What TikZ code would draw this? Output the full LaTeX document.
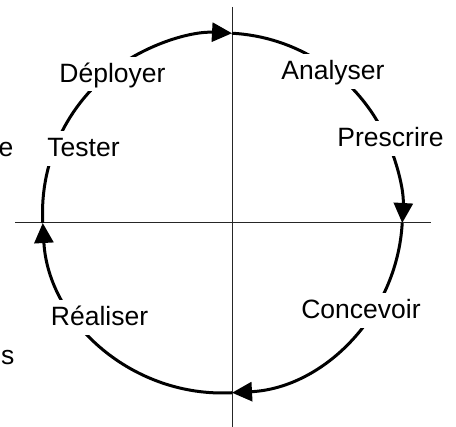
\documentclass[tikz,border=0pt]{standalone}
\usepackage{fontspec}
\setmainfont{Liberation Sans}
\usetikzlibrary{arrows.meta,calc}
\begin{document}
\begin{tikzpicture}[x=1pt,y=1pt,
  axisline/.style={line width=1pt, black!85},
  cycarc/.style={line width=3pt, -{Triangle[length=20pt,width=19pt]}},
  lbl/.style={fill=white, inner sep=2pt, text height=24pt, text depth=6.6pt, anchor=base, font=\fontsize{26.5}{30}\selectfont},
  cut/.style={inner sep=0pt, anchor=base east, font=\fontsize{26.5}{30}\selectfont}]
\useasboundingbox (0,0) rectangle (456,427);
% axes
\coordinate (vtop) at (232,420);
\coordinate (vbot) at (232,0);
\coordinate (hleft) at (15,204);
\coordinate (hright) at (431,204);
\draw[axisline] (vtop) -- (vbot);
\draw[axisline] (hleft) -- (hright);
% cycle points (circle centre (222.5,214), r = 180)
\coordinate (C) at (222.5,214);
\coordinate (L) at ($(C)+(183.19:180)$);
\coordinate (T) at ($(C)+(86.97:180)$);
\coordinate (R) at ($(C)+(-3.19:180)$);
\coordinate (B) at ($(C)+(-86.97:180)$);
\draw[cycarc] (L) arc[start angle=183.19, end angle=86.97, radius=180];
\draw[cycarc] (T) arc[start angle=86.97, end angle=-3.19, radius=180];
\draw[cycarc] (R) arc[start angle=-3.19, end angle=-86.97, radius=180];
\draw[cycarc] (B) arc[start angle=-86.97, end angle=-176.81, radius=180];
% labels
\node[lbl] (deployer) at (112.5,344.3) {Déployer};
\node[lbl] (tester) at (83.5,270) {Tester};
\node[lbl] (analyser) at (333,347) {Analyser};
\node[lbl] (prescrire) at (390.5,280) {Prescrire};
\node[lbl] (concevoir) at (361,108) {Concevoir};
\node[lbl] (realiser) at (99.5,101) {Réaliser};
\node[cut] (cute) at (13.5,270) {e};
\node[cut] (cuts) at (14.5,62) {s};
\end{tikzpicture}
\end{document}
